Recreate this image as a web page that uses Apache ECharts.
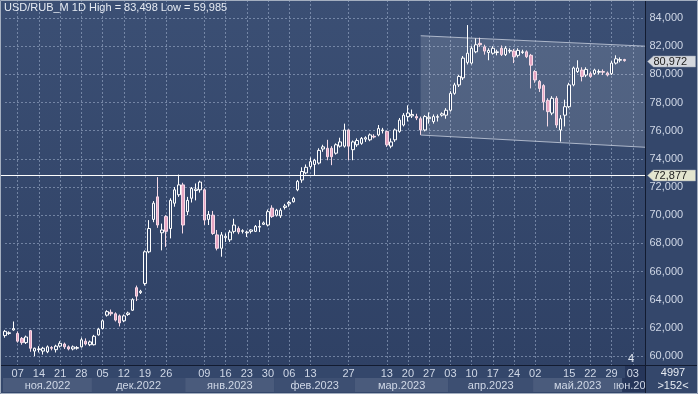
<!DOCTYPE html>
<html><head><meta charset="utf-8">
<script src="https://cdn.jsdelivr.net/npm/echarts@6/dist/echarts.min.js"></script>
<style>html,body{margin:0;padding:0;background:#34476b;overflow:hidden}#c{width:698px;height:394px}</style>
</head><body><div id="c"></div>
<script>
const titleText = 'USD/RUB_M 1D High = 83,498 Low = 59,985';
const holidays = ['2022-11-04','2023-01-02','2023-02-23','2023-03-08','2023-05-01','2023-05-09'];
const futureDates = ['2023-06-02','2023-06-03','2023-06-04','2023-06-05','2023-06-06'];
const opens = [61.45,61.60,61.85,61.60,61.25,60.95,61.80,60.35,60.45,60.35,60.30,60.60,60.45,60.70,60.85,60.65,60.50,60.55,60.65,61.05,60.80,60.80,61.50,61.95,62.90,63.10,63.00,62.85,62.50,62.95,63.25,64.85,64.50,65.15,67.40,69.70,71.30,68.75,69.90,69.05,70.85,71.45,72.15,70.25,71.20,71.75,71.80,71.80,69.70,70.00,68.60,67.65,68.40,68.25,68.85,69.05,68.85,68.75,68.85,68.85,69.15,69.35,69.30,70.50,70.00,69.95,70.55,70.80,70.95,71.80,72.50,73.00,73.45,73.60,73.70,74.70,74.75,74.75,74.40,74.90,74.90,76.05,74.65,75.00,75.10,75.40,75.35,75.60,75.70,76.00,75.95,74.90,75.35,75.95,76.40,77.00,77.05,77.00,76.85,76.05,76.85,76.65,76.95,77.10,77.10,77.45,78.65,79.25,79.75,80.85,80.80,81.60,82.20,81.95,81.55,81.50,81.55,81.85,81.40,81.65,81.65,81.35,81.55,81.60,81.35,80.20,79.50,79.20,78.15,77.25,78.30,76.05,77.10,77.70,79.25,80.20,80.30,79.95,80.05,80.05,80.15,80.20,80.10,80.05,80.80,81.00,81.05];
const highs = [61.85,61.75,62.45,61.75,61.35,61.45,61.85,60.60,60.70,60.65,60.75,60.70,60.80,61.05,60.95,60.75,60.75,60.70,61.30,61.25,61.10,61.50,62.00,62.60,63.25,63.30,63.10,62.95,62.95,63.15,64.10,65.00,64.70,67.50,69.65,71.00,72.70,69.40,70.00,71.20,72.00,72.877,72.30,71.30,72.00,72.25,72.45,71.90,70.30,70.30,68.95,68.80,68.70,68.95,69.75,69.20,69.00,68.90,69.00,69.30,69.65,69.55,70.40,70.70,70.45,70.50,70.80,71.00,71.30,72.50,73.40,73.60,74.10,74.00,74.75,75.00,75.35,74.90,75.10,75.50,76.50,76.10,75.30,75.45,75.55,75.60,75.80,75.75,76.40,76.20,76.00,75.45,76.15,76.90,77.25,77.80,77.50,77.20,77.00,77.10,77.30,77.15,77.15,77.30,77.60,78.80,79.40,79.95,81.30,83.498,82.00,82.55,82.60,82.10,81.85,82.00,81.75,82.05,82.00,81.85,81.80,81.85,81.75,81.70,81.45,80.30,79.60,79.30,78.30,78.45,78.45,77.10,78.20,79.40,80.55,81.00,80.50,80.50,80.20,80.40,80.35,80.35,80.20,80.95,81.35,81.20,81.10];
const lows = [61.30,61.50,61.80,60.95,60.80,60.85,60.30,59.985,60.25,60.10,60.20,60.40,60.25,60.60,60.50,60.40,60.40,60.45,60.60,60.75,60.70,60.75,61.45,61.90,62.80,62.85,62.45,62.10,62.40,62.85,63.20,63.90,64.40,65.00,67.30,69.50,69.10,67.50,67.75,68.35,70.60,71.30,68.70,70.00,70.90,71.05,71.60,69.30,69.30,68.60,67.50,67.05,68.10,68.10,68.70,68.65,68.70,68.45,68.70,68.80,68.80,69.30,69.20,69.80,69.90,69.80,70.40,70.60,70.90,71.70,72.30,72.90,73.30,72.85,73.60,74.50,73.90,73.55,74.30,74.80,74.80,73.90,73.90,74.85,75.00,75.20,75.25,75.45,75.60,75.80,74.85,74.75,75.20,75.85,76.30,76.65,76.90,76.75,75.70,75.95,76.50,76.50,76.65,77.00,76.85,77.35,78.55,79.10,79.60,80.70,80.70,81.50,81.95,81.40,81.00,81.40,81.35,81.30,81.30,81.50,80.80,81.20,81.45,81.15,79.00,79.40,78.75,77.45,76.30,77.10,76.20,75.22,76.30,77.60,79.15,80.10,79.50,79.80,79.75,79.95,80.00,79.95,79.85,79.95,80.70,80.85,80.90];
const closes = [61.75,61.65,61.95,61.05,60.95,61.35,60.55,60.55,60.50,60.55,60.65,60.55,60.70,60.90,60.65,60.50,60.65,60.60,61.15,60.85,61.00,61.40,61.90,62.50,63.15,63.00,62.55,62.35,62.85,63.05,64.00,64.25,64.60,67.40,69.05,70.85,69.30,68.95,68.85,71.05,71.80,72.15,69.30,71.05,71.90,71.85,72.35,69.65,70.05,68.70,67.65,68.60,68.50,68.80,69.30,68.80,68.90,68.80,68.95,69.20,69.20,69.45,70.25,69.90,70.35,70.35,70.65,70.90,71.20,72.40,73.10,73.40,73.80,73.90,74.60,74.85,74.15,74.15,75.00,75.20,76.05,74.90,75.20,75.30,75.45,75.50,75.70,75.55,76.15,76.05,75.00,75.20,76.05,76.75,77.10,77.25,77.15,76.90,76.05,77.00,76.95,77.00,77.00,77.20,77.45,78.65,79.25,79.85,81.15,81.50,81.85,82.10,82.10,81.65,81.70,81.85,81.60,81.40,81.85,81.70,81.25,81.70,81.60,81.25,80.65,79.60,79.00,78.05,77.35,78.30,76.40,76.85,77.70,79.25,80.45,80.45,79.85,80.35,79.85,80.30,80.20,80.15,79.95,80.80,81.10,81.05,80.972];
const yTickValues = [60,62,64,66,68,70,72,74,76,78,80,82,84];
const dayLabelDates = ['2022-11-07','2022-11-14','2022-11-21','2022-11-28','2022-12-05','2022-12-12','2022-12-19','2022-12-26','2023-01-09','2023-01-16','2023-01-23','2023-01-30','2023-02-06','2023-02-13','2023-02-27','2023-03-13','2023-03-20','2023-03-27','2023-04-03','2023-04-10','2023-04-17','2023-04-24','2023-05-02','2023-05-15','2023-05-22','2023-05-29','2023-06-03'];
const monthStarts = ['2022-11-01','2022-12-01','2023-01-03','2023-02-01','2023-03-01','2023-04-03','2023-05-02','2023-06-01'];
const monthNames = ['ноя.2022','дек.2022','янв.2023','фев.2023','мар.2023','апр.2023','май.2023','июн.2023'];
const levelValues = [72.877, 80.972];
const levelLines = [true, false];
const channelStart = ['2023-03-23', 82.74, 75.69];
const channelEndUpper = 82.0, channelEndLower = 74.82;

// trading-day categories
const categories = [];
(function(){
  const d = new Date(Date.UTC(2022,10,1));
  while (categories.length < opens.length) {
    const s = d.toISOString().slice(0,10);
    const wd = d.getUTCDay();
    if (wd !== 0 && wd !== 6 && holidays.indexOf(s) < 0) categories.push(s);
    d.setUTCDate(d.getUTCDate()+1);
  }
})();
const allCats = categories.concat(futureDates);
const idxOf = s => allCats.indexOf(s);
const daySet = new Set(dayLabelDates);
const candleData = opens.map((o,i)=>[o, closes[i], lows[i], highs[i]]);
const fmt = v => v.toFixed(3).replace('.', ',');
const FONT = "'Liberation Sans Narrow','Arial Narrow','Liberation Sans',Arial,sans-serif";
const TXT = '#cfd7e6';
const GRIDLINE = 'rgba(165,182,210,0.55)';

const chart = echarts.init(document.getElementById('c'), null, {renderer:'canvas'});
const gL = 5, gW = 640.5;
const option = {
  animation: false,
  backgroundColor: 'transparent',
  textStyle: {fontFamily: FONT},
  grid: [
    {left:gL, top:0, width:gW, height:365, outerBoundsMode:'none'},
    {left:gL, top:18, width:gW, height:338, outerBoundsMode:'none'},
    {left:gL, top:378, width:gW, height:14, outerBoundsMode:'none'}
  ],
  xAxis: [
    {gridIndex:0, type:'category', data:allCats, boundaryGap:false,
     axisLine:{show:false}, axisTick:{show:false},
     axisLabel:{interval:(i,v)=>daySet.has(v), formatter:v=>v.slice(8), color:TXT, fontSize:11, fontFamily:FONT, margin:3},
     splitLine:{show:true, interval:(i,v)=>daySet.has(v), lineStyle:{color:GRIDLINE, type:[2,2], width:1}}},
    {gridIndex:1, type:'category', data:allCats, boundaryGap:false, show:false},
    {gridIndex:2, type:'category', data:allCats, boundaryGap:false, show:false}
  ],
  yAxis: [
    {gridIndex:0, type:'value', min:0, max:1, show:false},
    {gridIndex:1, type:'value', position:'right', min:yTickValues[0], max:yTickValues[yTickValues.length-1], interval:2,
     axisLine:{show:false}, axisTick:{show:false},
     axisLabel:{color:TXT, fontSize:11, fontFamily:FONT, margin:4, align:'left', formatter:fmt},
     splitLine:{show:true, lineStyle:{color:GRIDLINE, type:[2,2], width:1}}},
    {gridIndex:2, type:'value', min:0, max:1, show:false}
  ],
  graphic: [
    {type:'rect', z:-20, silent:true, shape:{x:0,y:0,width:646,height:366},
     style:{fill:new echarts.graphic.LinearGradient(0,0,0,1,[{offset:0,color:'#3b4f74'},{offset:1,color:'#2f4165'}])}},
    {type:'rect', z:-20, silent:true, shape:{x:646,y:0,width:52,height:394}, style:{fill:'#34476b'}},
    {type:'rect', z:-20, silent:true, shape:{x:0,y:366,width:646,height:28}, style:{fill:'#34476b'}},
    {type:'rect', z:-19, silent:true, shape:{x:625,y:366,width:21,height:26}, style:{fill:'#26365a'}},
    {type:'line', z:20, silent:true, shape:{x1:0,y1:365.5,x2:698,y2:365.5}, style:{stroke:'#121b30', lineWidth:1}},
    {type:'line', z:20, silent:true, shape:{x1:645.5,y1:0,x2:645.5,y2:394}, style:{stroke:'#121b30', lineWidth:1}},
    {type:'rect', z:30, silent:true, shape:{x:0.5,y:0.5,width:697,height:393}, style:{fill:null, stroke:'#a4afc0', lineWidth:1}},
    {type:'text', z:30, silent:true, x:4, y:2, style:{text:titleText, fill:'#e6ebf3', font:'11px '+FONT}},
    {type:'text', z:30, silent:true, x:631, y:353, style:{text:'4', fill:'#e6ebf3', font:'11px '+FONT, align:'center'}},
    {type:'text', z:30, silent:true, x:673, y:367, style:{text:'4997', fill:'#e6ebf3', font:'11px '+FONT, align:'center'}},
    {type:'text', z:30, silent:true, x:673, y:380, style:{text:'>152<', fill:'#e6ebf3', font:'11px '+FONT, align:'center'}}
  ],
  series: [
    {type:'custom', name:'channel', xAxisIndex:1, yAxisIndex:1, z:1, clip:false, silent:true,
     data:[[idxOf(channelStart[0]), channelStart[1], channelStart[2], allCats.length-1, channelEndUpper, channelEndLower]],
     encode:{x:[0,3], y:[1,2,4,5]},
     renderItem:(params, api)=>{
       const a = api.coord([api.value(0), api.value(1)]);
       const b = api.coord([api.value(3), api.value(4)]);
       const c = api.coord([api.value(3), api.value(5)]);
       const d = api.coord([api.value(0), api.value(2)]);
       return {type:'group', children:[
         {type:'polygon', shape:{points:[a,b,c,d]}, style:{fill:'rgba(255,255,255,0.13)', stroke:null}},
         {type:'line', shape:{x1:a[0],y1:a[1],x2:b[0],y2:b[1]}, style:{stroke:'rgba(200,208,222,0.8)', lineWidth:1}},
         {type:'line', shape:{x1:d[0],y1:d[1],x2:c[0],y2:c[1]}, style:{stroke:'rgba(200,208,222,0.8)', lineWidth:1}}
       ]};
     }},
    {type:'candlestick', name:'USD/RUB_M', xAxisIndex:1, yAxisIndex:1, z:3, clip:false, barWidth:3,
     data:candleData,
     itemStyle:{color:'#34476b', color0:'#e6a4c2', borderColor:'#ffffff', borderColor0:'#f6dbe7', borderWidth:1}},
    {type:'custom', name:'levels', xAxisIndex:1, yAxisIndex:1, z:6, clip:false, silent:true,
     data:levelValues.map((v)=>[0, v]),
     encode:{x:0, y:1},
     renderItem:(params, api)=>{
       const cs = params.coordSys;
       const i = params.dataIndex;
       const v = api.value(1);
       const y = Math.round(api.coord([0, v])[1]) + 0.5;
       const r = cs.x + cs.width;
       const ch = [];
       if (levelLines[i]) ch.push({type:'line', shape:{x1:0, y1:y, x2:r, y2:y}, style:{stroke:'#ffffff', lineWidth:1.2}});
       ch.push({type:'polygon', shape:{points:[[r+2,y],[r+8,y-5.5],[r+50,y-5.5],[r+50,y+5.5],[r+8,y+5.5]]},
                style:{fill: i===0 ? '#e3e5cf' : '#d4d7dd', stroke:'#9aa3b3', lineWidth:0.5}});
       ch.push({type:'text', style:{text:fmt(v), x:r+8, y:y, verticalAlign:'middle', fill:'#222', font:'11px '+FONT}});
       return {type:'group', children:ch};
     }},
    {type:'custom', name:'months', xAxisIndex:2, yAxisIndex:2, z:5, clip:false, silent:true,
     data:monthStarts.map(s=>[idxOf(s), 0.5]),
     encode:{x:0, y:1},
     renderItem:(params, api)=>{
       const cs = params.coordSys;
       const i = params.dataIndex;
       const pitch = api.coord([1,0.5])[0] - api.coord([0,0.5])[0];
       const x0 = Math.max(cs.x - 2, api.coord([api.value(0),0.5])[0] - pitch/2);
       const x1 = i+1 < monthStarts.length ? api.coord([idxOf(monthStarts[i+1]),0.5])[0] - pitch/2 : cs.x + cs.width;
       const fill = i === monthStarts.length-1 ? '#26365a' : (i%2===0 ? '#4a5b7c' : '#3d4f72');
       return {type:'group', children:[
         {type:'rect', shape:{x:x0, y:cs.y, width:x1-x0, height:cs.height}, style:{fill:fill}},
         {type:'text', clipPath:{type:'rect', shape:{x:x0-8, y:cs.y-2, width:x1-x0+8, height:cs.height+4}},
          style:{text:monthNames[i], x:(x0+x1)/2, y:cs.y+cs.height/2+0.5, align:'center', verticalAlign:'middle', fill:TXT, font:'11px '+FONT}}
       ]};
     }}
  ]
};
chart.setOption(option);
</script></body></html>
